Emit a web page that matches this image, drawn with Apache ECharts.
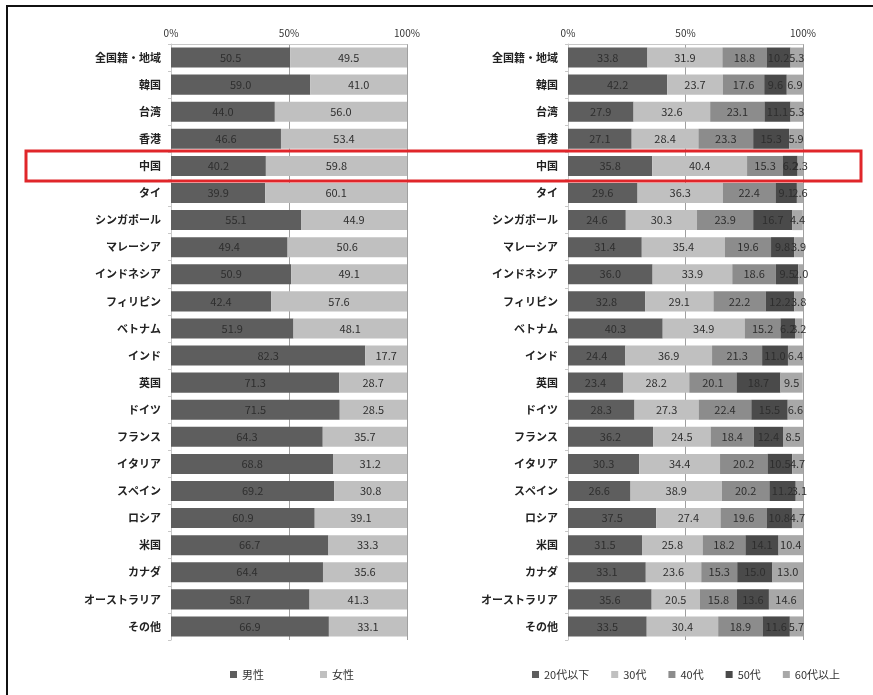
<!DOCTYPE html>
<html lang="ja">
<head>
    <meta charset="UTF-8">
    <title>index</title>
    <script src="https://cdn.jsdelivr.net/npm/echarts@6/dist/echarts.min.js"></script>
    <style>
        html, body { margin: 0; padding: 0; background: #fff; }
        #main { width: 873px; height: 695px; }
    </style>
</head>
<body>
<div id="main"></div>
<script>
    // 国籍・地域
    var categories = ['全国籍・地域','韓国','台湾','香港','中国','タイ','シンガポール','マレーシア','インドネシア','フィリピン','ベトナム','インド','英国','ドイツ','フランス','イタリア','スペイン','ロシア','米国','カナダ','オーストラリア','その他'];
    var tickLabels = ['0%', '50%', '100%'];

    // 性別
    var male   = [50.5, 59.0, 44.0, 46.6, 40.2, 39.9, 55.1, 49.4, 50.9, 42.4, 51.9, 82.3, 71.3, 71.5, 64.3, 68.8, 69.2, 60.9, 66.7, 64.4, 58.7, 66.9];
    var female = [49.5, 41.0, 56.0, 53.4, 59.8, 60.1, 44.9, 50.6, 49.1, 57.6, 48.1, 17.7, 28.7, 28.5, 35.7, 31.2, 30.8, 39.1, 33.3, 35.6, 41.3, 33.1];

    // 年代
    var age20 = [33.8, 42.2, 27.9, 27.1, 35.8, 29.6, 24.6, 31.4, 36.0, 32.8, 40.3, 24.4, 23.4, 28.3, 36.2, 30.3, 26.6, 37.5, 31.5, 33.1, 35.6, 33.5];
    var age30 = [31.9, 23.7, 32.6, 28.4, 40.4, 36.3, 30.3, 35.4, 33.9, 29.1, 34.9, 36.9, 28.2, 27.3, 24.5, 34.4, 38.9, 27.4, 25.8, 23.6, 20.5, 30.4];
    var age40 = [18.8, 17.6, 23.1, 23.3, 15.3, 22.4, 23.9, 19.6, 18.6, 22.2, 15.2, 21.3, 20.1, 22.4, 18.4, 20.2, 20.2, 19.6, 18.2, 15.3, 15.8, 18.9];
    var age50 = [10.2, 9.6, 11.1, 15.3, 6.2, 9.1, 16.7, 9.8, 9.5, 12.2, 6.2, 11.0, 18.7, 15.5, 12.4, 10.5, 11.2, 10.8, 14.1, 15.0, 13.6, 11.6];
    var age60 = [5.3, 6.9, 5.3, 5.9, 2.3, 2.6, 4.4, 3.9, 2.0, 3.8, 3.2, 6.4, 9.5, 6.6, 8.5, 4.7, 3.1, 4.7, 10.4, 13.0, 14.6, 5.7];

    var FONT = '"Noto Sans CJK JP", sans-serif';
    var my_Chart = echarts.init(document.getElementById('main'));

    function xAxisOf(idx) {
        return {
            gridIndex: idx,
            type: 'value',
            position: 'top',
            min: 0, max: 100, interval: 50,
            axisLine: {show: true, lineStyle: {color: '#c8c8c8'}},
            axisTick: {show: false},
            splitLine: {show: true, lineStyle: {color: '#a0a0a0'}},
            axisLabel: {
                color: '#333', fontSize: 10, fontFamily: FONT, margin: 6,
                formatter: function (v) { return tickLabels[v / 50]; }
            }
        };
    }
    function yAxisOf(idx) {
        return {
            gridIndex: idx,
            type: 'category',
            inverse: true,
            data: categories,
            axisLine: {show: true, lineStyle: {color: '#c8c8c8'}},
            axisTick: {show: true, length: 3, lineStyle: {color: '#c8c8c8'}},
            axisLabel: {color: '#222', fontSize: 11, fontWeight: 'bold', fontFamily: FONT, margin: 10}
        };
    }
    function barOf(name, data, color, idx) {
        return {
            name: name,
            type: 'bar',
            stack: 'g' + idx,
            xAxisIndex: idx,
            yAxisIndex: idx,
            barWidth: '74%',
            data: data,
            itemStyle: {color: color},
            label: {
                show: true, position: 'inside', color: '#2e2e2e',
                fontSize: 11, fontFamily: FONT,
                formatter: function (p) { return p.value.toFixed(1); }
            }
        };
    }

    var option = {
        backgroundColor: '#fff',
        animation: false,
        grid: [
            {left: 171, right: 466, top: 44, bottom: 55},
            {left: 568, right: 70, top: 44, bottom: 55}
        ],
        xAxis: [xAxisOf(0), xAxisOf(1)],
        yAxis: [yAxisOf(0), yAxisOf(1)],
        legend: [
            {
                data: ['男性', '女性'],
                left: 225, top: 664, itemWidth: 7, itemHeight: 7, itemGap: 56,
                icon: 'rect', textStyle: {color: '#333', fontSize: 11, fontFamily: FONT}
            },
            {
                data: ['20代以下', '30代', '40代', '50代', '60代以上'],
                left: 527, top: 664, itemWidth: 7, itemHeight: 7, itemGap: 22,
                icon: 'rect', textStyle: {color: '#333', fontSize: 11, fontFamily: FONT}
            }
        ],
        graphic: [
            {
                type: 'line', silent: true,
                shape: {x1: 6, y1: 6, x2: 873, y2: 6},
                style: {stroke: '#111', lineWidth: 2}
            },
            {
                type: 'line', silent: true,
                shape: {x1: 7, y1: 6, x2: 7, y2: 695},
                style: {stroke: '#111', lineWidth: 2}
            },
            {
                type: 'rect', silent: true, z: 100,
                shape: {x: 26, y: 151, width: 835, height: 30},
                style: {fill: 'none', stroke: '#e0262a', lineWidth: 3}
            }
        ],
        series: [
            barOf('男性', male, '#5e5e5e', 0),
            barOf('女性', female, '#c0c0c0', 0),
            barOf('20代以下', age20, '#5e5e5e', 1),
            barOf('30代', age30, '#c0c0c0', 1),
            barOf('40代', age40, '#8c8c8c', 1),
            barOf('50代', age50, '#4a4a4a', 1),
            barOf('60代以上', age60, '#a8a8a8', 1)
        ]
    };
    my_Chart.setOption(option);
</script>
</body>
</html>
